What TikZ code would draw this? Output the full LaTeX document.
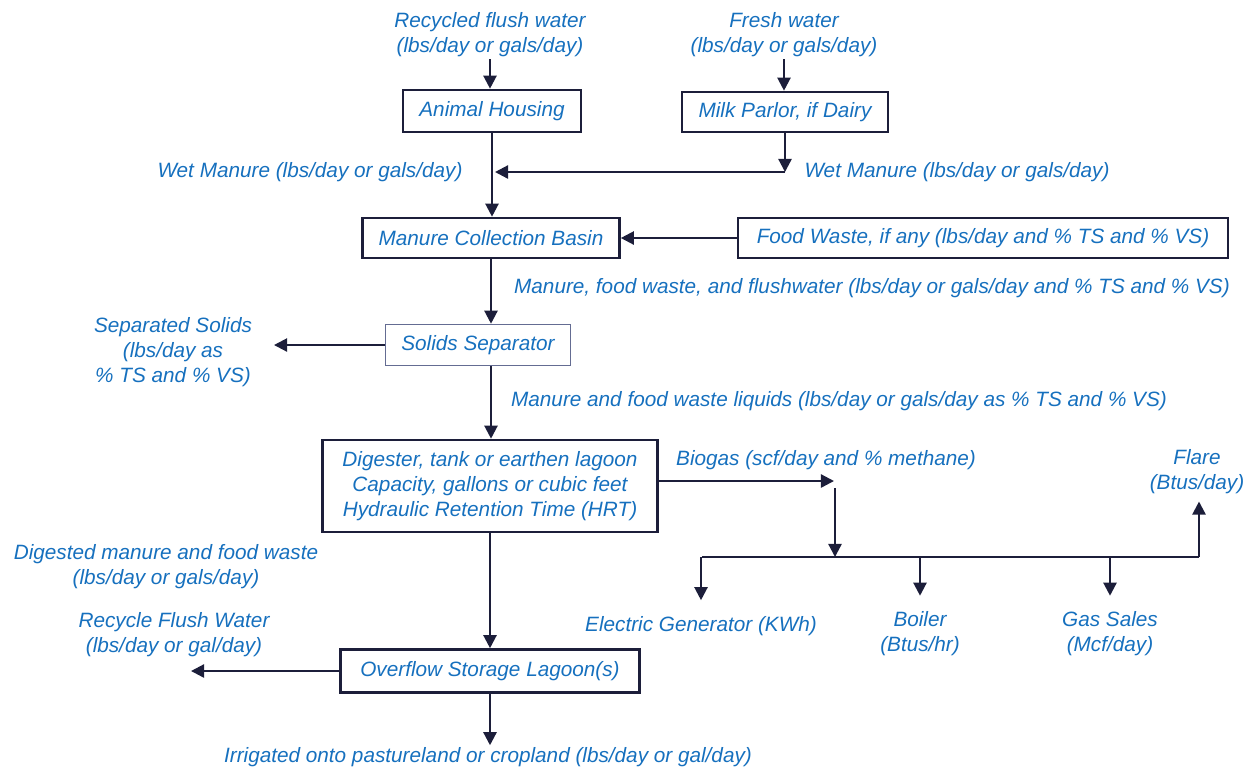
\documentclass[tikz,border=0pt]{standalone}
\usepackage{fontspec}
\setmainfont{Liberation Sans}
\usetikzlibrary{arrows.meta,positioning}
\definecolor{lblue}{RGB}{22,112,190}
\definecolor{navy}{RGB}{28,30,58}
\definecolor{slate}{RGB}{100,108,146}
\begin{document}
\begin{tikzpicture}[x=0.02cm, y=-0.02cm]
\tikzstyle{box}=[draw=navy, line width=1.5pt, text=lblue, inner sep=2pt,
                 font=\fontsize{11.8}{14.2}\selectfont\itshape, align=center]
\tikzstyle{lbl}=[text=lblue, inner sep=1pt, align=center,
                 font=\fontsize{11.8}{14.2}\selectfont\itshape]
\tikzstyle{arr}=[draw=navy, line width=1.3pt, -{Triangle[length=7.5pt,width=7.5pt]}]
\tikzstyle{pipe}=[draw=navy, line width=1.2pt]
\useasboundingbox (0,0) rectangle (1246,769);
% boxes
\node[box, minimum width=3.56cm, minimum height=0.84cm] (house) at (492,111) {Animal Housing};
\node[box, minimum width=4.12cm, minimum height=0.8cm] (parlor) at (785,112) {Milk Parlor, if Dairy};
\node[box, minimum width=5.14cm, minimum height=0.8cm] (basin) at (491,238) {Manure Collection Basin};
\node[box, minimum width=9.8cm, minimum height=0.8cm] (food) at (983,238) {Food Waste, if any (lbs/day and \% TS and \% VS)};
\node[box, draw=slate, line width=0.9pt, minimum width=3.7cm, minimum height=0.82cm] (sep) at (478,345) {Solids Separator};
\node[box, minimum width=6.7cm, minimum height=1.84cm] (dig) at (490,486) {Digester, tank or earthen lagoon\\Capacity, gallons or cubic feet\\Hydraulic Retention Time (HRT)};
\node[box, minimum width=5.98cm, minimum height=0.86cm] (lagoon) at (490,671) {Overflow Storage Lagoon(s)};
% labels
\node[lbl] (rfw) at (490,35) {Recycled flush water\\(lbs/day or gals/day)};
\node[lbl] (fresh) at (784,35) {Fresh water\\(lbs/day or gals/day)};
\node[lbl] (wetL) at (310,172) {Wet Manure (lbs/day or gals/day)};
\node[lbl] (wetR) at (957,172) {Wet Manure (lbs/day or gals/day)};
\node[lbl] (mfw) at (872,288) {Manure, food waste, and flushwater (lbs/day or gals/day and \% TS and \% VS)};
\node[lbl] (solids) at (173,352) {Separated Solids\\(lbs/day as\\\% TS and \% VS)};
\node[lbl] (liq) at (839,401) {Manure and food waste liquids (lbs/day or gals/day as \% TS and \% VS)};
\node[lbl] (biogas) at (826,460) {Biogas (scf/day and \% methane)};
\node[lbl] (flare) at (1197,472) {Flare\\(Btus/day)};
\node[lbl] (digd) at (166,567) {Digested manure and food waste\\(lbs/day or gals/day)};
\node[lbl] (gen) at (701,626) {Electric Generator (KWh)};
\node[lbl] (boil) at (920,634) {Boiler\\(Btus/hr)};
\node[lbl] (gas) at (1110,634) {Gas Sales\\(Mcf/day)};
\node[lbl] (recyc) at (174,635) {Recycle Flush Water\\(lbs/day or gal/day)};
\node[lbl] (irr) at (488,757) {Irrigated onto pastureland or cropland (lbs/day or gal/day)};
% free ends
\coordinate (wmdrop) at (785,172);
\coordinate (wmin) at (495,172);
\coordinate (ssout) at (274,345);
\coordinate (bgtip) at (834,481);
\coordinate (bgdrop) at (835,488);
\coordinate (busL) at (702,557);
\coordinate (busR) at (1199,557);
\coordinate (rfout) at (191,671);
% flows
\draw[arr] (rfw.south) -- (rfw.south |- house.north);
\draw[arr] (fresh.south) -- (fresh.south |- parlor.north);
\draw[arr] (house.south) -- (house.south |- basin.north);
\draw[arr] (parlor.south) -- (wmdrop);
\draw[arr] (wmdrop) -- (wmin);
\draw[arr] (food.west) -- (basin.east);
\draw[arr] (basin.south) -- (basin.south |- sep.north);
\draw[arr, line width=1.2pt] (sep.west) -- (ssout);
\draw[arr] (sep.south -| basin.south) -- (basin.south |- dig.north);
\draw[arr] (dig.east |- bgtip) -- (bgtip);
\draw[arr] (bgdrop) -- (bgdrop |- busL);
\draw[pipe] (busL) -- (busR);
\foreach \n in {gen,boil,gas}{\draw[arr] (\n.north |- busL) -- ([yshift=8pt]\n.north);}
\draw[arr] (busR) -- ([yshift=-3pt]busR |- flare.south);
\draw[arr] (dig.south) -- (dig.south |- lagoon.north);
\draw[arr] (lagoon.west) -- (rfout);
\draw[arr] (lagoon.south) -- (lagoon.south |- irr.north);
\end{tikzpicture}
\end{document}
